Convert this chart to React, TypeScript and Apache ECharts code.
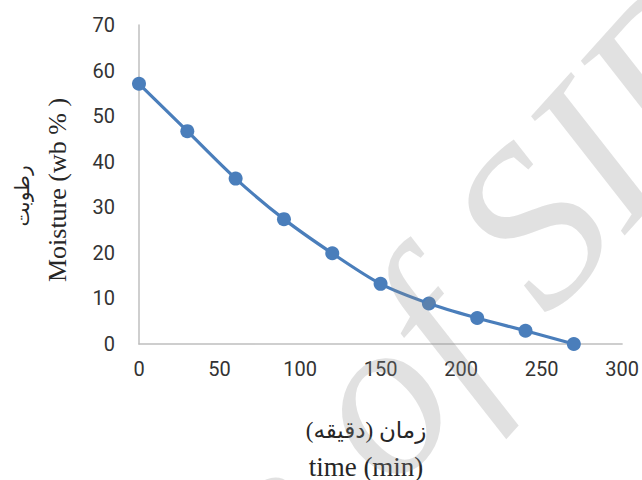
import React, { useEffect, useRef } from "react";
import * as echarts from "echarts";

const timeMin = [0, 30, 60, 90, 120, 150, 180, 210, 240, 270];
const moisture = [57.1, 46.7, 36.3, 27.4, 19.9, 13.2, 8.9, 5.7, 2.9, 0];
const xTitleFa = "زمان (دقیقه)";
const xTitleEn = "time (min)";
const yTitleFa = "رطوبت";
const yTitleEn = "Moisture (wb % )";
const watermarkA = "Archive";
const watermarkB = "of SID";

export default function App() {
  const ref = useRef<HTMLDivElement>(null);
  useEffect(() => {
    if (!ref.current) return;
    const chart = echarts.init(ref.current, null, { renderer: "svg" });
    const rot = (48 * Math.PI) / 180;
    const wmStyle = {
      fontSize: 228,
      fontStyle: "italic",
      fontFamily: "Liberation Serif, Times New Roman, serif",
      fill: "rgba(140,140,140,0.26)",
      textVerticalAlign: "middle",
    };
    chart.setOption({
      animation: false,
      backgroundColor: "#ffffff",
      grid: { left: 139, right: 19, top: 25, bottom: 136, containLabel: false },
      xAxis: {
        type: "value",
        min: 0,
        max: 300,
        interval: 50,
        axisLine: { show: true, lineStyle: { color: "#bfbfbf", width: 1.5 } },
        axisTick: { show: false },
        splitLine: { show: false },
        axisLabel: { fontSize: 20, color: "#333333", margin: 15, fontFamily: "Roboto, Arial, sans-serif" },
      },
      yAxis: {
        type: "value",
        min: 0,
        max: 70,
        interval: 10,
        axisLine: { show: true, lineStyle: { color: "#bfbfbf", width: 1.5 } },
        axisTick: { show: false },
        splitLine: { show: false },
        axisLabel: { fontSize: 20, color: "#333333", margin: 24, fontFamily: "Roboto, Arial, sans-serif" },
      },
      series: [
        {
          type: "line",
          data: timeMin.map((t, i) => [t, moisture[i]]),
          smooth: 0.3,
          symbol: "circle",
          symbolSize: 14,
          lineStyle: { color: "#4a7ebb", width: 3.2 },
          itemStyle: { color: "#4a7ebb" },
        },
      ],
      graphic: [
        {
          type: "text",
          x: 57,
          y: 190,
          rotation: Math.PI / 2,
          style: {
            text: yTitleEn,
            fontSize: 26,
            fontFamily: "Liberation Serif, Times New Roman, serif",
            fill: "#262626",
            textAlign: "center",
            textVerticalAlign: "middle",
          },
        },
        {
          type: "text",
          x: 22,
          y: 196,
          rotation: Math.PI / 2,
          style: {
            text: yTitleFa,
            fontSize: 20,
            fontFamily: "Liberation Serif, DejaVu Sans, serif",
            fill: "#262626",
            textAlign: "center",
            textVerticalAlign: "middle",
          },
        },
        {
          type: "text",
          x: 366,
          y: 430,
          style: {
            text: xTitleFa,
            fontSize: 23,
            fontFamily: "Liberation Serif, DejaVu Sans, serif",
            fill: "#262626",
            textAlign: "center",
            textVerticalAlign: "middle",
          },
        },
        {
          type: "text",
          x: 366,
          y: 467,
          style: {
            text: xTitleEn,
            fontSize: 27,
            fontFamily: "Liberation Serif, Times New Roman, serif",
            fill: "#262626",
            textAlign: "center",
            textVerticalAlign: "middle",
          },
        },
        {
          type: "text",
          x: 298,
          y: 484,
          rotation: rot,
          z: 100,
          style: { ...wmStyle, text: watermarkA, textAlign: "right" },
        },
        {
          type: "text",
          x: 335,
          y: 442,
          rotation: rot,
          z: 100,
          style: { ...wmStyle, text: watermarkB, textAlign: "left" },
        },
      ],
    });
    return () => chart.dispose();
  }, []);
  return (
    <div
      ref={ref}
      style={{ position: "absolute", left: 0, top: 0, width: 642, height: 480 }}
    />
  );
}
